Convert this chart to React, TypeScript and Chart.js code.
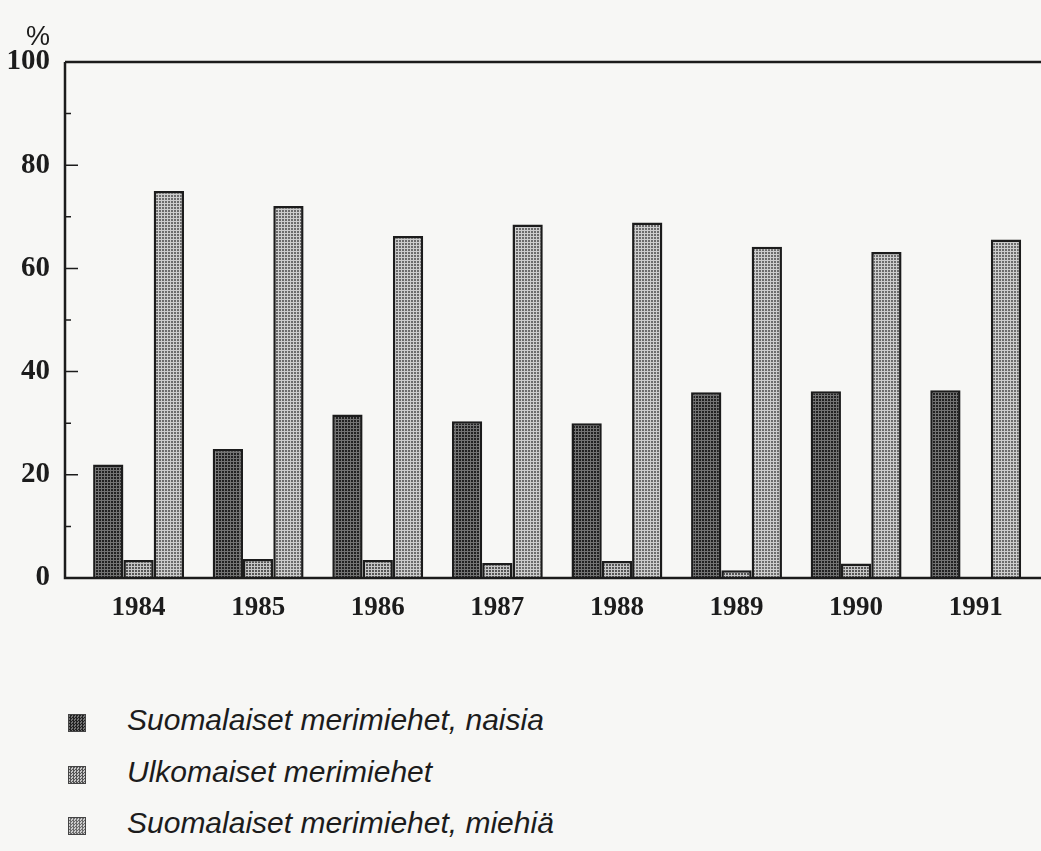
import React, { useEffect, useRef } from "react";
import { Chart, registerables } from "chart.js";

Chart.register(...registerables);

const years = ["1984", "1985", "1986", "1987", "1988", "1989", "1990", "1991"];
const naisia = [22.0, 25.0, 31.7, 30.4, 30.0, 36.0, 36.2, 36.4];
const ulkomaiset = [3.5, 3.7, 3.5, 2.9, 3.3, 1.5, 2.8, 0];
const miehia = [75.0, 72.1, 66.3, 68.5, 68.9, 64.2, 63.2, 65.6];
const yTickValues = [0, 20, 40, 60, 80, 100];
const seriesLabels = [
  "Suomalaiset merimiehet, naisia",
  "Ulkomaiset merimiehet",
  "Suomalaiset merimiehet, miehiä",
];
const unitLabel = "%";

const BG = "#f7f7f5";
const INK = "#1c1c1c";

const patternColors: [string, string][] = [
  ["#222222", "#737373"],
  ["#555555", "#c6c6c6"],
  ["#6c6c6c", "#cdcdcd"],
];

function makePattern(a: string, b: string): CanvasPattern | string {
  const c = document.createElement("canvas");
  c.width = 3;
  c.height = 3;
  const ctx = c.getContext("2d");
  if (!ctx) return a;
  ctx.fillStyle = b;
  ctx.fillRect(0, 0, 3, 3);
  ctx.fillStyle = a;
  ctx.fillRect(0, 0, 2, 2);
  const p = ctx.createPattern(c, "repeat");
  return p || a;
}

const frame = {
  id: "frame",
  beforeDraw(chart: any) {
    const { ctx, width, height } = chart;
    ctx.save();
    ctx.fillStyle = BG;
    ctx.fillRect(0, 0, width, height);
    ctx.restore();
  },
  afterDatasetsDraw(chart: any) {
    const { ctx, chartArea } = chart;
    const y = chart.scales.y;
    ctx.save();
    ctx.strokeStyle = INK;
    ctx.lineWidth = 2.5;
    ctx.beginPath();
    ctx.moveTo(chartArea.left, chartArea.top);
    ctx.lineTo(chart.width, chartArea.top);
    ctx.moveTo(chartArea.left, chartArea.top);
    ctx.lineTo(chartArea.left, chartArea.bottom);
    ctx.lineTo(chart.width, chartArea.bottom);
    ctx.stroke();
    ctx.lineWidth = 1.5;
    ctx.beginPath();
    for (let v = 10; v < 100; v += 10) {
      const py = y.getPixelForValue(v);
      const len = v % 20 === 0 ? 13 : 6;
      ctx.moveTo(chartArea.left, py);
      ctx.lineTo(chartArea.left + len, py);
    }
    ctx.stroke();
    ctx.restore();
  },
};

export default function App() {
  const ref = useRef<HTMLCanvasElement | null>(null);

  useEffect(() => {
    document.body.style.margin = "0";
    document.body.style.background = BG;
    const canvas = ref.current;
    if (!canvas) return;
    const pats = patternColors.map(([a, b]) => makePattern(a, b));
    const series = [naisia, ulkomaiset, miehia];
    const chart = new Chart(canvas, {
      type: "bar",
      data: {
        datasets: series.map((s, k) => ({
          label: seriesLabels[k],
          data: s.map((v, i) => ({ x: i, y: v })),
          backgroundColor: pats[k] as any,
          borderColor: INK,
          borderWidth: 2.5,
          categoryPercentage: 0.76,
          barPercentage: 1.0,
        })),
      },
      options: {
        animation: false,
        responsive: false,
        devicePixelRatio: 1,
        layout: { padding: { top: 62, left: 0, right: 0, bottom: 0 } },
        plugins: {
          legend: { display: false },
          tooltip: { enabled: false },
        },
        scales: {
          x: {
            type: "linear",
            offset: false,
            min: -0.615,
            max: 7.546,
            grid: { display: false, drawTicks: false, offset: false },
            border: { display: false },
            afterBuildTicks: (scale: any) => {
              scale.ticks = years.map((_, i) => ({ value: i }));
            },
            afterFit: (scale: any) => {
              scale.height = 660 - 578;
            },
            ticks: {
              autoSkip: false,
              maxRotation: 0,
              padding: 14,
              color: INK,
              font: { family: "'Liberation Serif', 'Times New Roman', serif", size: 27, weight: "bold" },
              callback: (v: any) => years[Math.round(Number(v))] ?? "",
            },
          },
          y: {
            type: "linear",
            min: 0,
            max: 100,
            grid: { display: false, drawTicks: false },
            border: { display: false },
            afterBuildTicks: (scale: any) => {
              scale.ticks = yTickValues.map((v) => ({ value: v }));
            },
            afterFit: (scale: any) => {
              scale.width = 65;
            },
            ticks: {
              padding: 15,
              color: INK,
              font: { family: "'Liberation Serif', 'Times New Roman', serif", size: 29, weight: "bold" },
            },
          },
        },
      },
      plugins: [frame],
    } as any);
    return () => chart.destroy();
  }, []);

  const swatchBg = patternColors.map(
    ([a, b]) => `repeating-conic-gradient(${a} 0 25%, ${b} 0 50%) 0 0 / 3px 3px`
  );
  const rowCenters = [723, 775, 826];

  return (
    <div style={{ position: "relative", width: 1041, height: 851, background: BG, overflow: "hidden" }}>
      <canvas ref={ref} width={1041} height={660} style={{ display: "block" }} />
      <div
        style={{
          position: "absolute",
          left: 26,
          top: 21,
          fontFamily: "'Liberation Sans', Arial, sans-serif",
          fontSize: 27,
          color: INK,
          lineHeight: "30px",
        }}
      >
        {unitLabel}
      </div>
      {seriesLabels.map((lab, k) => (
        <div key={lab}>
          <div
            style={{
              position: "absolute",
              left: 68,
              top: rowCenters[k] - 9,
              width: 16,
              height: 16,
              border: "1px solid #444",
              background: swatchBg[k],
            }}
          />
          <div
            style={{
              position: "absolute",
              left: 127,
              top: rowCenters[k] - 21,
              height: 36,
              lineHeight: "36px",
              fontFamily: "'Liberation Sans', Arial, sans-serif",
              fontStyle: "italic",
              fontSize: 30,
              color: INK,
              whiteSpace: "nowrap",
            }}
          >
            {lab}
          </div>
        </div>
      ))}
    </div>
  );
}
